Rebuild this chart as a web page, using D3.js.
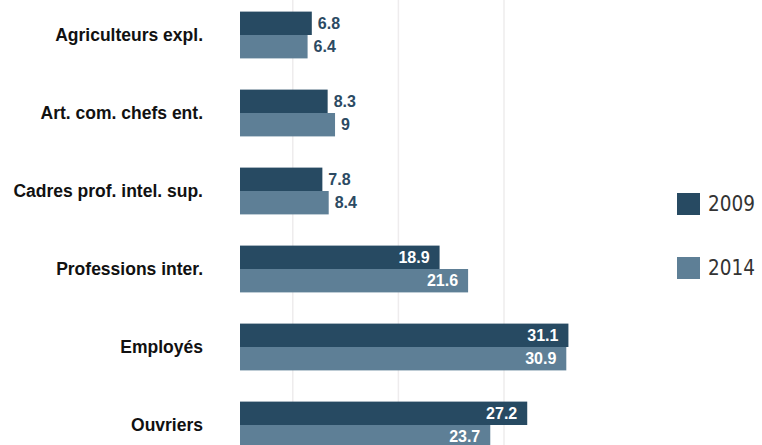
<!DOCTYPE html>
<html>
<head>
<meta charset="utf-8">
<script src="https://cdn.jsdelivr.net/npm/d3@7"></script>
<style>
  body { margin: 0; background: #fff; }
  .cat-label { font-family: "Liberation Sans", Arial, sans-serif; font-weight: bold; font-size: 17.5px; fill: #111; }
  .val-label { font-family: "Liberation Sans", Arial, sans-serif; font-weight: bold; font-size: 16px; }
  .legend-text { font-family: "DejaVu Sans Condensed", "DejaVu Sans", sans-serif; font-weight: 300; font-size: 20.5px; fill: #333; }
</style>
</head>
<body>
<div class="chart"></div>
<script>
// data
var categories = ["Agriculteurs expl.", "Art. com. chefs ent.", "Cadres prof. intel. sup.",
                  "Professions inter.", "Employés", "Ouvriers"];
var years = ["2009", "2014"];
var values2009 = [6.8, 8.3, 7.8, 18.9, 31.1, 27.2];
var values2014 = [6.4, 9, 8.4, 21.6, 30.9, 23.7];
var gridTicks = [5, 15, 25];

var colors = { "2009": "#274a62", "2014": "#5e7f96" };

var svgWidth = 762, svgHeight = 445;

var svg = d3.select(".chart")
  .append("svg")
  .attr("width", svgWidth)
  .attr("height", svgHeight);

// scales
var xScale = d3.scaleLinear()
  .domain([0, 10])
  .range([240, 345.6]);

var yScale = d3.scaleBand()
  .domain(categories)
  .range([-4, 464])
  .paddingInner(0.4)
  .paddingOuter(0.2);

var ySub = d3.scaleBand()
  .domain(years)
  .range([0, yScale.bandwidth()]);

// gridlines
svg.append("g")
  .selectAll("line")
  .data(gridTicks)
  .enter()
  .append("line")
  .attr("x1", d => xScale(d))
  .attr("x2", d => xScale(d))
  .attr("y1", 0)
  .attr("y2", svgHeight)
  .attr("stroke", "#eeeced")
  .attr("stroke-width", 1.5);

// rows
var rows = categories.map(function(c, i) {
  return { cat: c, vals: [
    { year: "2009", v: values2009[i] },
    { year: "2014", v: values2014[i] }
  ]};
});

var groups = svg.selectAll(".grp")
  .data(rows)
  .enter()
  .append("g")
  .attr("class", "grp")
  .attr("transform", d => `translate(0, ${yScale(d.cat)})`);

groups.append("text")
  .attr("class", "cat-label")
  .attr("x", 203)
  .attr("y", yScale.bandwidth() / 2)
  .attr("dy", "0.35em")
  .attr("text-anchor", "end")
  .text(d => d.cat);

groups.selectAll("rect")
  .data(d => d.vals)
  .enter()
  .append("rect")
  .attr("x", xScale(0))
  .attr("y", d => ySub(d.year))
  .attr("width", d => xScale(d.v) - xScale(0))
  .attr("height", ySub.bandwidth())
  .attr("fill", d => colors[d.year]);

groups.selectAll(".val-label")
  .data(d => d.vals)
  .enter()
  .append("text")
  .attr("class", "val-label")
  .attr("x", d => d.v > 15 ? xScale(d.v) - 10 : xScale(d.v) + 6)
  .attr("y", d => ySub(d.year) + ySub.bandwidth() / 2)
  .attr("dy", "0.35em")
  .attr("text-anchor", d => d.v > 15 ? "end" : "start")
  .attr("fill", d => d.v > 15 ? "#fff" : "#2c4a63")
  .text(d => d.v);

// legend
var legend = svg.selectAll(".legend")
  .data(years)
  .enter()
  .append("g")
  .attr("class", "legend")
  .attr("transform", (d, i) => `translate(677, ${193 + i * 64})`);

legend.append("rect")
  .attr("width", 23)
  .attr("height", 22)
  .attr("fill", d => colors[d]);

legend.append("text")
  .attr("class", "legend-text")
  .attr("x", 31)
  .attr("y", 11)
  .attr("dy", "0.36em")
  .text(d => d);
</script>
</body>
</html>
